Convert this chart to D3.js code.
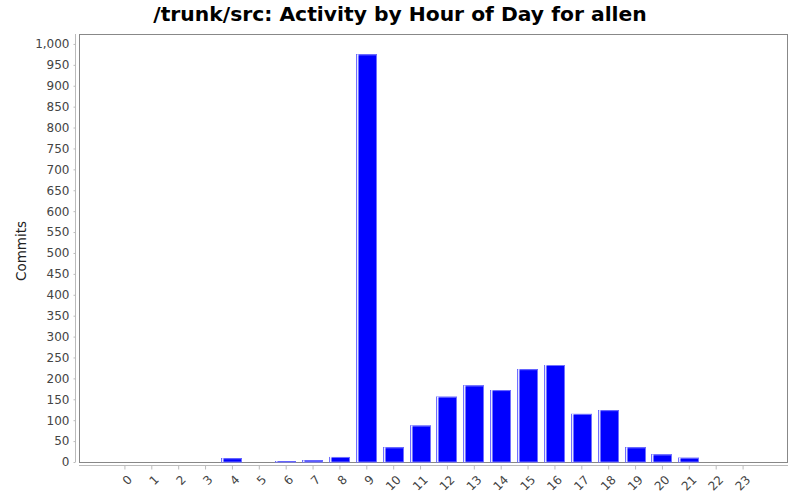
<!DOCTYPE html>
<html><head><meta charset="utf-8">
<script src="https://cdn.jsdelivr.net/npm/d3@7"></script>
<style>body{margin:0;background:#fff}svg{display:block}</style>
</head><body>
<svg id="c" width="800" height="500"></svg>
<script>
const hours = ["0","1","2","3","4","5","6","7","8","9","10","11","12","13","14","15","16","17","18","19","20","21","22","23"];
const commits = [0,0,0,0,9,0,2,4,12,975,35,87,156,183,172,222,232,115,124,35,18,10,0,0];
const yTicks = [0,50,100,150,200,250,300,350,400,450,500,550,600,650,700,750,800,850,900,950,1000];
const title = "/trunk/src: Activity by Hour of Day for allen";
const yLabel = "Commits";

const svg = d3.select("#c");
const L = 79, R = 788, T = 34, B = 462;

const x = d3.scalePoint().domain(hours).range([L, R]).padding(1.69);
const y = d3.scaleLinear().domain([0, 975 * 1.05]).range([B, T]);

svg.append("text").attr("x", 400).attr("y", 21).attr("text-anchor", "middle")
  .style("font-family", "'DejaVu Sans',sans-serif").style("font-weight", "bold")
  .style("font-size", "20.3px").attr("fill", "#000").text(title);

// plot border
svg.append("rect").attr("x", L + 0.5).attr("y", T + 0.5).attr("width", R - L - 1).attr("height", B - T)
  .attr("fill", "#fff").attr("stroke", "#888").attr("stroke-width", 1);

// bars
const bw = 21;
const g = svg.append("g");
commits.forEach((v, i) => {
  if (v <= 0) return;
  const cx = x(hours[i]);
  const x0 = Math.round(cx - bw / 2);
  const yt = y(v), h = B - yt;
  g.append("rect").attr("x", x0).attr("y", yt).attr("width", bw).attr("height", h).attr("fill", "#0000ff");
  g.append("rect").attr("x", x0 + 0.5).attr("y", yt + 0.5).attr("width", bw - 1).attr("height", Math.max(0, h - 0.5))
    .attr("fill", "none").attr("stroke", "#7070ff").attr("stroke-width", 1);
  g.append("rect").attr("x", x0 + 1).attr("y", yt).attr("width", 1.5).attr("height", h).attr("fill", "#fff").attr("opacity", 0.9);
});

// y axis
const ya = d3.axisLeft(y).tickValues(yTicks).tickSize(2).tickPadding(4).tickFormat(d3.format(","));
const yg = svg.append("g").attr("transform", "translate(75.5,0)").call(ya);
yg.select(".domain").attr("stroke", "#bbb").attr("d", `M0,${T}V${B}`);
yg.selectAll(".tick line").attr("stroke", "#bbb");
yg.selectAll("text").style("font-family", "'DejaVu Sans',sans-serif").style("font-size", "12px").attr("fill", "#444");

// x axis
const xa = d3.axisBottom(x).tickSize(4).tickPadding(4);
const xg = svg.append("g").attr("transform", "translate(0,465.5)").call(xa);
xg.select(".domain").attr("stroke", "#bbb").attr("d", `M${L},0H${R}`);
xg.selectAll(".tick line").attr("stroke", "#bbb");
xg.selectAll("text").style("font-family", "'DejaVu Sans',sans-serif").style("font-size", "12px").attr("fill", "#444")
  .attr("text-anchor", "end").attr("x", 0).attr("y", 0).attr("dy", "0.35em")
  .attr("transform", "translate(5,12) rotate(-45)");

svg.append("text").attr("transform", "translate(26,251) rotate(-90)").attr("text-anchor", "middle")
  .style("font-family", "'DejaVu Sans',sans-serif").style("font-size", "13.5px").attr("fill", "#222").text(yLabel);
</script>
</body></html>
